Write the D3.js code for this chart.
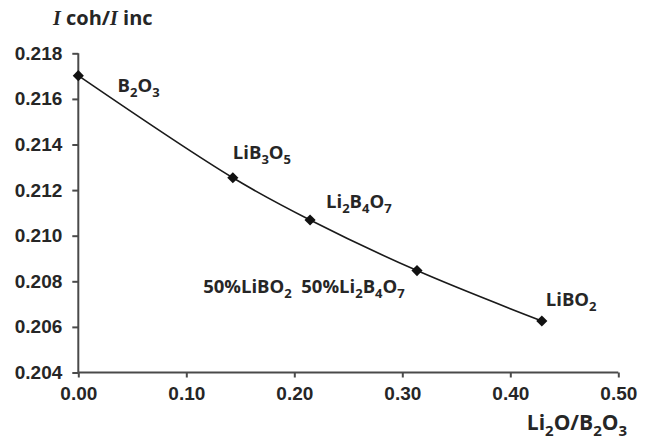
<!DOCTYPE html>
<html><head><meta charset="utf-8">
<script src="https://cdn.jsdelivr.net/npm/d3@7"></script>
<style>
body{margin:0;background:#fff;}
svg{display:block;}
</style></head>
<body>
<svg id="chart" width="645" height="443"></svg>
<script>
// Data
const ratios = [0.0, 0.1431, 0.2146, 0.3136, 0.4292];
const intensityRatio = [0.21702, 0.21254, 0.21069, 0.20847, 0.20626];
const xTicks = [0, 0.1, 0.2, 0.3, 0.4, 0.5];
const yTicks = [0.204, 0.206, 0.208, 0.210, 0.212, 0.214, 0.216, 0.218];
// Labels: parts as [text, isSubscript]
const labelParts = [
  [["B",0],["2",1],["O",0],["3",1]],
  [["LiB",0],["3",1],["O",0],["5",1]],
  [["Li",0],["2",1],["B",0],["4",1],["O",0],["7",1]],
  [["50%LiBO",0],["2",1],["  50%Li",0],["2",1],["B",0],["4",1],["O",0],["7",1]],
  [["LiBO",0],["2",1]]
];
// label anchor in data units
const labelX = [0.0364, 0.1431, 0.2294, 0.1156, 0.4329];
const labelY = [0.21630, 0.21338, 0.21122, 0.20750, 0.20693];

const svg = d3.select("#chart");
const x = d3.scaleLinear().domain([0, 0.5]).range([78.3, 618.3]);
const y = d3.scaleLinear().domain([0.204, 0.218]).range([372.5, 53.3]);

const axisColor = "#4a4a4a";
const textColor = "#262626";

// X axis
const gx = svg.append("g").attr("transform", `translate(0,${y(0.204)})`)
  .call(d3.axisBottom(x).tickValues(xTicks).tickFormat(d3.format(".2f")).tickSize(5).tickPadding(9));
// Y axis
const gy = svg.append("g").attr("transform", `translate(${x(0)},0)`)
  .call(d3.axisLeft(y).tickValues(yTicks).tickFormat(d3.format(".3f")).tickSize(6).tickPadding(10));

[gx, gy].forEach(g => {
  g.select(".domain").attr("stroke", axisColor).attr("stroke-width", 2);
  g.selectAll(".tick line").attr("stroke", axisColor).attr("stroke-width", 2);
  g.selectAll(".tick text").attr("fill", textColor)
    .style("font-family", "'Liberation Sans', Arial, sans-serif")
    .style("font-weight", "bold").style("font-size", "19px");
});
gx.select(".domain").attr("d", `M${x(0)},0H${x(0.5)}`);
gy.select(".domain").attr("d", `M0,${y(0.204)}V${y(0.218)}`);

// Line
const pts = ratios.map((r, i) => [r, intensityRatio[i]]);
svg.append("path").datum(pts)
  .attr("fill", "none").attr("stroke", "#1a1a1a").attr("stroke-width", 1.6)
  .attr("d", d3.line().x(d => x(d[0])).y(d => y(d[1])).curve(d3.curveCatmullRom.alpha(0.5)));

// Markers
svg.selectAll(".mk").data(pts).enter().append("path")
  .attr("class", "mk")
  .attr("d", d3.symbol(d3.symbolSquare).size(62))
  .attr("transform", d => `translate(${x(d[0])},${y(d[1])}) rotate(45)`)
  .attr("fill", "#111");

// Labels
labelParts.forEach((parts, i) => {
  const t = svg.append("text")
    .attr("x", x(labelX[i])).attr("y", y(labelY[i]))
    .attr("fill", textColor)
    .style("font-family", "'Open Sans', 'Noto Sans', sans-serif")
    .style("font-weight", "bold").style("font-size", "18.5px")
    .attr("xml:space", "preserve").style("white-space", "pre");
  let prevSub = false;
  parts.forEach(([s, sub]) => {
    const ts = t.append("tspan").text(s);
    if (sub) { ts.attr("dy", prevSub ? 0 : 5).style("font-size", "13px"); }
    else if (prevSub) { ts.attr("dy", -5); }
    prevSub = !!sub;
  });
});

// Y title
const yt = svg.append("text").attr("x", 53).attr("y", 25).attr("fill", textColor)
  .style("font-size", "20px");
yt.append("tspan").text("I").style("font-family", "'Liberation Serif', 'Times New Roman', serif").style("font-style", "italic").style("font-weight", "bold");
yt.append("tspan").text(" coh/").style("font-family", "'Open Sans', sans-serif").style("font-weight", "bold");
yt.append("tspan").text("I").style("font-family", "'Liberation Serif', 'Times New Roman', serif").style("font-style", "italic").style("font-weight", "bold");
yt.append("tspan").text(" inc").style("font-family", "'Open Sans', sans-serif").style("font-weight", "bold");

// X title
const xt = svg.append("text").attr("x", 627).attr("y", 430).attr("text-anchor", "end")
  .attr("fill", textColor)
  .style("font-family", "'Open Sans', 'Noto Sans', sans-serif")
  .style("font-weight", "bold").style("font-size", "21px");
[["Li",0],["2",1],["O/B",0],["2",1],["O",0],["3",1]].reduce((prevSub, [s, sub]) => {
  const ts = xt.append("tspan").text(s);
  if (sub) ts.attr("dy", prevSub ? 0 : 6).style("font-size", "15px");
  else if (prevSub) ts.attr("dy", -6);
  return !!sub;
}, false);
</script>
</body></html>
